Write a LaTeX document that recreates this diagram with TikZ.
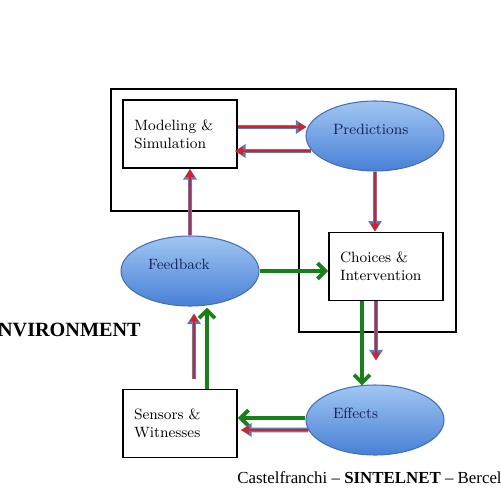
\documentclass[tikz,border=0pt]{standalone}
\usepackage{fontspec}
\newfontfamily\timesfont{Liberation Serif}
\usetikzlibrary{arrows.meta,calc,shapes.geometric}

\definecolor{arrblue}{RGB}{79,129,189}
\definecolor{arrred}{RGB}{222,28,40}
\definecolor{arrgreen}{RGB}{22,130,22}
\definecolor{ovaltop}{RGB}{160,198,242}
\definecolor{ovalbot}{RGB}{72,128,214}
\definecolor{ovalline}{RGB}{68,110,182}
\definecolor{ovaltext}{RGB}{22,32,82}

\tikzset{
  box/.style={draw, line width=1.1pt, fill=white, minimum width=2.28cm, minimum height=1.36cm,
    text width=1.84cm, align=left, inner sep=0pt, font=\fontsize{8.5}{10.2}\selectfont},
  oval/.style={ellipse, draw=ovalline, line width=0.6pt, top color=ovaltop, bottom color=ovalbot,
    minimum width=2.76cm, minimum height=1.4cm, inner sep=0pt, text width=1.68cm, align=left,
    text height=6pt, text depth=8pt, text=ovaltext, font=\fontsize{8.5}{10.2}\selectfont},
  bluearr/.style={draw=arrblue, line width=2.6pt, -{Triangle[length=6pt,width=7.5pt]}},
  redarr/.style={draw=arrred, line width=1.1pt, -{Triangle[length=4.5pt,width=4.5pt]}},
  greenarr/.style={draw=arrgreen, line width=2.2pt, -{Straight Barb[length=4.5pt,width=9pt]}},
}

\begin{document}
\begin{tikzpicture}[x=0.02cm, y=-0.02cm]
\useasboundingbox (0,0) rectangle (500,500);

% outer frame
\draw[line width=0.7pt] (111,89) -- (456,89) -- (456,332) -- (299,332) -- (299,211) -- (111,211) -- cycle;

\node[box] (model) at (180,134) {Modeling \&\\Simulation};
\node[oval] (pred) at (375,136) {Predictions};
\node[oval] (feed) at (190,271) {Feedback};
\node[box] (choice) at (386,266.5) {Choices \&\\Intervention};
\node[oval] (effect) at (375,420) {Effects};
\node[box] (sensor) at (180,423.5) {Sensors \&\\Witnesses};

\node[anchor=base east, inner sep=0pt, font=\timesfont\bfseries\fontsize{11.5}{13}\selectfont] (env) at (141,336) {ENVIRONMENT};
\node[anchor=base west, inner sep=0pt, font=\timesfont\fontsize{9.6}{12}\selectfont] (credit) at (237,483)
  {Castelfranchi – \textbf{SINTELNET} – Bercelli};

% model <-> predictions
\draw[bluearr] ($(model.east)+(0,-7)$) -- ($(pred.west)+(1,-9)$);
\draw[redarr] ($(model.east)+(0,-7)$) -- ($(pred.west)+(1,-9)$);
\draw[bluearr] ($(pred.west)+(6,15)$) -- ($(model.east)+(-3,17)$);
\draw[redarr] ($(pred.west)+(6,15)$) -- ($(model.east)+(-3,17)$);

% predictions -> choices
\draw[bluearr] (pred.south) -- (pred.south |- choice.north);
\draw[redarr] (pred.south) -- (pred.south |- choice.north);

% feedback -> model, feedback -> choices
\draw[bluearr] (feed.north) -- (feed.north |- model.south);
\draw[redarr] (feed.north) -- (feed.north |- model.south);
\draw[greenarr] (feed.east) -- (feed.east -| choice.west);

% choices -> effects
\draw[greenarr] ($(choice.south)+(-24,0)$) -- ($(effect.north)+(-13,1)$);
\draw[bluearr] ($(choice.south)+(-10,0)$) -- ($(choice.south)+(-10,59)$);
\draw[redarr] ($(choice.south)+(-10,0)$) -- ($(choice.south)+(-10,59)$);

% effects -> sensors
\draw[greenarr] ($(effect.west)+(0,-2)$) -- ($(sensor.east)+(0,-5.5)$);
\draw[bluearr] ($(effect.west)+(3,10)$) -- ($(sensor.east)+(3,6.5)$);
\draw[redarr] ($(effect.west)+(3,10)$) -- ($(sensor.east)+(3,6.5)$);

% sensors -> feedback
\draw[greenarr] ($(sensor.north)+(27,0)$) -- ($(feed.south)+(17,1)$);
\draw[bluearr] ($(sensor.north)+(14,-10)$) -- ($(feed.south)+(4,7)$);
\draw[redarr] ($(sensor.north)+(14,-10)$) -- ($(feed.south)+(4,7)$);
\end{tikzpicture}
\end{document}
